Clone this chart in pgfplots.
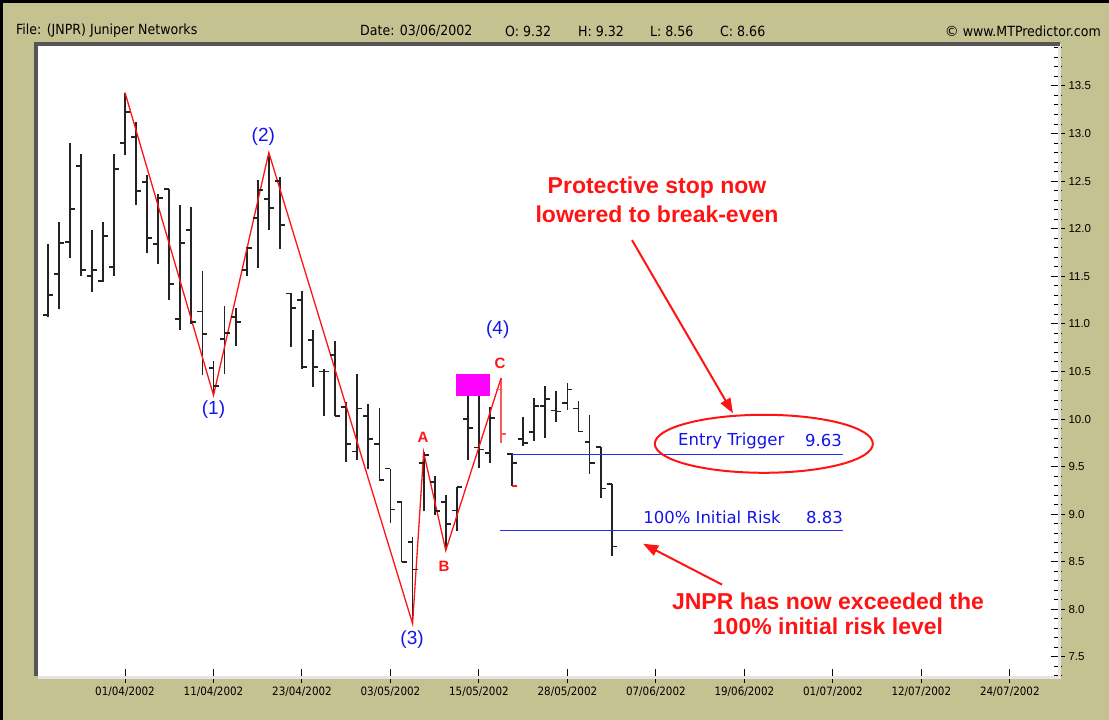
\documentclass[border=0pt]{standalone}
\usepackage{pgfplots}
\pgfplotsset{compat=1.18}
\usepackage{pgfplotstable}
\usepackage{fontspec}
\setmainfont{Liberation Sans}
\newfontfamily\condfont{DejaVu Sans Condensed}
\newfontfamily\dvfont{DejaVu Sans}
\usetikzlibrary{arrows.meta,shapes.geometric}

\definecolor{khaki}{RGB}{197,194,146}
\definecolor{frameDark}{RGB}{85,85,85}
\definecolor{frameLight}{RGB}{228,228,228}
\definecolor{barGray}{RGB}{35,35,35}
\definecolor{zzRed}{RGB}{255,20,20}
\definecolor{barRed}{RGB}{255,90,90}
\definecolor{lblBlue}{RGB}{20,20,235}
\definecolor{lineBlue}{RGB}{45,45,240}
\definecolor{boxMagenta}{RGB}{255,0,255}

\pgfdeclareplotmark{openL}{\pgfpathmoveto{\pgfpoint{-\pgfplotmarksize}{0pt}}\pgfpathlineto{\pgfpointorigin}\pgfusepathqstroke}
\pgfdeclareplotmark{closeR}{\pgfpathmoveto{\pgfpointorigin}\pgfpathlineto{\pgfpoint{\pgfplotmarksize}{0pt}}\pgfusepathqstroke}

% bar index (0 = 01/04/2002), open, high, low, close
\pgfplotstableread{
i o h l c
-7 11.09 11.84 11.07 11.30
-6 11.52 12.07 11.16 11.85
-5 11.86 12.90 11.69 12.21
-4 12.66 12.78 11.50 11.57
-3 11.50 11.99 11.34 11.57
-2 11.45 12.07 11.44 11.92
-1 11.60 12.78 11.50 12.63
0 12.90 13.43 12.77 13.23
1 12.96 13.12 12.25 12.40
2 12.49 12.56 11.74 11.90
3 11.84 12.36 11.63 12.32
4 12.42 12.42 11.25 11.42
5 11.05 12.25 10.94 11.85
6 11.99 12.23 11.00 11.02
7 11.13 11.56 10.46 10.89
8 10.54 10.61 10.25 10.35
9 10.84 11.19 10.47 10.90
10 11.07 11.17 10.77 11.02
11 11.57 11.81 11.50 11.80
12 12.11 12.51 11.59 12.41
13 12.31 12.80 11.99 12.22
14 12.50 12.54 11.79 12.04
15 11.32 11.32 10.76 11.17
16 11.25 11.35 10.53 10.55
17 10.83 10.94 10.34 10.55
18 10.50 10.53 10.03 10.50
19 10.67 10.82 10.03 10.03
20 10.13 10.18 9.55 9.74
21 9.66 10.47 9.57 10.11
22 10.03 10.16 9.48 9.79
23 9.74 10.12 9.36 9.36
24 9.48 9.48 8.91 9.05
25 9.13 9.13 8.50 8.50
26 8.71 8.76 7.85 8.42
27 9.54 9.65 9.03 9.62
28 9.34 9.40 8.99 9.03
29 9.13 9.20 8.62 8.90
30 9.04 9.29 8.82 9.29
31 10.00 10.25 9.57 9.91
32 9.70 10.25 9.49 9.68
33 9.64 10.13 9.54 10.01
35 9.63 9.64 9.30 9.54
36 9.79 10.02 9.72 9.75
37 9.86 10.22 9.77 10.14
38 10.14 10.35 9.80 10.21
39 10.09 10.29 9.97 10.08
40 10.17 10.38 10.09 10.31
41 10.11 10.19 9.86 9.87
42 9.76 10.04 9.42 9.54
43 9.71 9.71 9.17 9.27
44 9.32 9.32 8.56 8.66
}\bars

\pgfplotstableread{
i o h l c
34 10.31 10.43 9.75 9.84
}\redbar

\begin{document}
\begin{tikzpicture}[x=1pt,y=1pt]
\fill[khaki] (0,0) rectangle (1109,720);
\draw[black,line width=3pt] (0,718.5) -- (1109,718.5);
\draw[black,line width=3pt] (1.5,0) -- (1.5,720);

\node[anchor=west,inner sep=0,font=\condfont\fontsize{14}{16}\selectfont] at (16,689) {File: (JNPR) Juniper Networks};
\node[anchor=west,inner sep=0,font=\condfont\fontsize{14}{16}\selectfont] at (360,689) {Date: 03/06/2002};
\node[anchor=west,inner sep=0,font=\condfont\fontsize{14}{16}\selectfont] at (505,689) {O: 9.32};
\node[anchor=west,inner sep=0,font=\condfont\fontsize{14}{16}\selectfont] at (578,689) {H: 9.32};
\node[anchor=west,inner sep=0,font=\condfont\fontsize{14}{16}\selectfont] at (650,689) {L: 8.56};
\node[anchor=west,inner sep=0,font=\condfont\fontsize{14}{16}\selectfont] at (720,689) {C: 8.66};
\node[anchor=east,inner sep=0,font=\condfont\fontsize{14}{16}\selectfont] at (1101,689) {\dvfont ©\condfont{} www.MTPredictor.com};

\begin{axis}[
  at={(38pt,44pt)}, anchor=south west, scale only axis,
  width=1020pt, height=630pt,
  xmin=-7.87, xmax=84.36, ymin=7.30, ymax=13.92,
  axis background/.style={fill=white},
  axis line style={draw=none},
  clip=false,
  xtick={0,8,...,80},
  xticklabels={01/04/2002,11/04/2002,23/04/2002,03/05/2002,15/05/2002,28/05/2002,07/06/2002,19/06/2002,01/07/2002,12/07/2002,24/07/2002},
  xtick pos=left,
  ytick={7.5,8,...,13.5},
  minor ytick={7.3,7.4,...,13.95},
  ytick pos=right, yticklabel pos=right,
  tick align=center,
  major tick length=14pt, minor tick length=8pt,
  tick style={black,line width=1pt},
  /pgf/number format/assume math mode=true,
  yticklabel style={font=\fontsize{11.5}{12}\selectfont, /pgf/number format/.cd, fixed, fixed zerofill, precision=1},
  xticklabel style={font=\condfont\fontsize{11.5}{12}\selectfont},
]
% high-low lines
\addplot[barGray, line width=1.8pt, quiver={u=0,v=\thisrow{h}-\thisrow{l}}] table[x=i,y=l]{\bars};
\addplot[barGray, only marks, mark=openL, mark size=5pt, mark options={line width=1.8pt}] table[x=i,y=o]{\bars};
\addplot[barGray, only marks, mark=closeR, mark size=5pt, mark options={line width=1.8pt}] table[x=i,y=c]{\bars};
% red bar
\addplot[barRed, line width=1.8pt, quiver={u=0,v=\thisrow{h}-\thisrow{l}}] table[x=i,y=l]{\redbar};
\addplot[barRed, only marks, mark=openL, mark size=5pt, mark options={line width=1.8pt}] table[x=i,y=o]{\redbar};
\addplot[barRed, only marks, mark=closeR, mark size=5pt, mark options={line width=1.8pt}] table[x=i,y=c]{\redbar};
\addplot[zzRed, only marks, mark=closeR, mark size=5pt, mark options={line width=1.8pt}] coordinates {(35,9.30)};

% magenta box
\addplot[fill=boxMagenta, draw=none] coordinates {(29.93,10.24) (33.0,10.24) (33.0,10.47) (29.93,10.47)} --cycle;

% zigzag
\addplot[zzRed, line width=1.3pt] coordinates {(0,13.43) (8,10.25) (13,12.80) (26,7.85) (27,9.65) (29,8.62) (34,10.43)};

% blue levels
\addplot[lineBlue, line width=1.3pt] coordinates {(34.8,9.63) (64.9,9.63)};
\addplot[lineBlue, line width=1.3pt] coordinates {(33.9,8.83) (64.9,8.83)};

% wave labels
\node[text=lblBlue, font=\fontsize{19}{20}\selectfont] at (axis cs:8,10.10) {(1)};
\node[text=lblBlue, font=\fontsize{19}{20}\selectfont] at (axis cs:12.5,12.97) {(2)};
\node[text=lblBlue, font=\fontsize{19}{20}\selectfont] at (axis cs:25.95,7.68) {(3)};
\node[text=lblBlue, font=\fontsize{19}{20}\selectfont] at (axis cs:33.7,10.94) {(4)};
\node[text=zzRed, font=\bfseries\fontsize{15}{16}\selectfont] at (axis cs:26.95,9.81) {A};
\node[text=zzRed, font=\bfseries\fontsize{15}{16}\selectfont] at (axis cs:28.85,8.45) {B};
\node[text=zzRed, font=\bfseries\fontsize{15}{16}\selectfont] at (axis cs:33.9,10.59) {C};

% level texts
\node[anchor=west, inner sep=0, text=lblBlue, font=\dvfont\fontsize{16.5}{17}\selectfont] at (axis cs:50.0,9.77) {Entry Trigger};
\node[anchor=east, inner sep=0, text=lblBlue, font=\dvfont\fontsize{16.5}{17}\selectfont] at (axis cs:64.83,9.77) {9.63};
\node[anchor=west, inner sep=0, text=lblBlue, font=\dvfont\fontsize{16.5}{17}\selectfont] at (axis cs:46.84,8.97) {100\% Initial Risk};
\node[anchor=east, inner sep=0, text=lblBlue, font=\dvfont\fontsize{16.5}{17}\selectfont] at (axis cs:64.92,8.97) {8.83};

\node[draw=zzRed, line width=2pt, ellipse, minimum width=218pt, minimum height=58pt, inner sep=0] at (axis cs:57.76,9.74) {};

% red annotations
\node[text=zzRed, font=\bfseries\fontsize{23}{24}\selectfont] at (axis cs:48.1,12.43) {Protective stop now};
\node[text=zzRed, font=\bfseries\fontsize{23}{24}\selectfont] at (axis cs:48.1,12.15) {lowered to break-even};
\node[text=zzRed, font=\bfseries\fontsize{23}{24}\selectfont] at (axis cs:63.56,8.09) {JNPR has now exceeded the};
\node[text=zzRed, font=\bfseries\fontsize{23}{24}\selectfont] at (axis cs:63.56,7.82) {100\% initial risk level};

\draw[zzRed, line width=2pt, -{Triangle[length=15pt,width=11pt]}] (axis cs:45.84,11.88) -- (axis cs:54.97,10.06);
\draw[zzRed, line width=2pt, -{Triangle[length=15pt,width=11pt]}] (axis cs:53.98,8.26) -- (axis cs:46.84,8.69);
\end{axis}

% 3D frame of plot area
\draw[frameLight, line width=3pt] (38,42.5) -- (1059.5,42.5) -- (1059.5,676);
\draw[frameDark, line width=4pt] (36,44) -- (36,676) -- (1060,676);

\pgfresetboundingbox
\path[use as bounding box] (0,0) rectangle (1109,720);
\end{tikzpicture}
\end{document}
